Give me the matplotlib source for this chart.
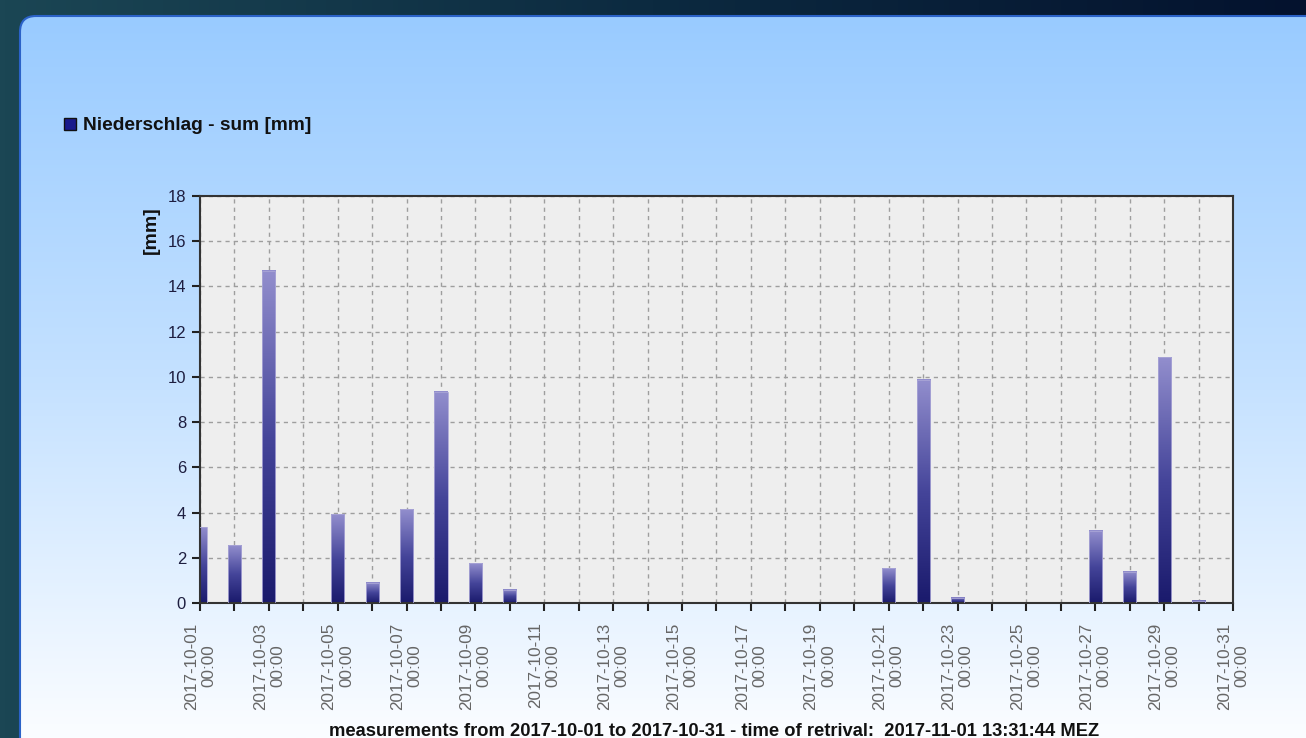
import numpy as np
import pandas as pd
import matplotlib
matplotlib.use('Agg')
import matplotlib.pyplot as plt
from matplotlib.colors import LinearSegmentedColormap
from matplotlib.patches import FancyBboxPatch, Rectangle

plt.rcParams['font.family'] = ['Liberation Sans', 'DejaVu Sans']

# daily precipitation sums, October 2017
days = pd.date_range('2017-10-01', '2017-10-31', freq='D')
rain_mm = [3.35, 2.55, 14.7, 0, 3.93, 0.89, 4.15, 9.35, 1.75, 0.59,
           0, 0, 0, 0, 0, 0, 0, 0, 0, 0,
           1.53, 9.87, 0.24, 0, 0, 0, 3.2, 1.39, 10.87, 0.09, 0]
tick_days = days[::2]
tick_labels = [d.strftime('%Y-%m-%d\n%H:%M') for d in tick_days]
y_ticks = list(range(0, 19, 2))

legend_label = 'Niederschlag - sum [mm]'
y_label = '[mm]'
footer = 'measurements from 2017-10-01 to 2017-10-31 - time of retrival:  2017-11-01 13:31:44 MEZ'

W, H = 1306, 738
fig = plt.figure(figsize=(W / 100, H / 100), dpi=100)

# background: dark frame + rounded light blue panel
bg = fig.add_axes([0, 0, 1, 1])
bg.set_xlim(0, W)
bg.set_ylim(H, 0)
bg.axis('off')
frame_cmap = LinearSegmentedColormap.from_list('frame', ['#1b4654', '#0c2a40', '#04122e'])
bg.imshow(np.linspace(0, 1, 256).reshape(1, -1), cmap=frame_cmap, extent=(0, W, H, 0), aspect='auto')
panel = FancyBboxPatch((20, 16), W + 40, H + 40, boxstyle='round,pad=0,rounding_size=16',
                       fc='none', ec='#2b62c8', lw=1.5, zorder=3)
bg.add_patch(panel)
panel_cmap = LinearSegmentedColormap.from_list('panel', ['#99cbff', '#c4e1ff', '#fbfdff'])
im = bg.imshow(np.linspace(0, 1, 256).reshape(-1, 1), cmap=panel_cmap,
               extent=(20, W, H, 16), aspect='auto', zorder=2)
im.set_clip_path(panel)
bg.set_xlim(0, W)
bg.set_ylim(H, 0)

# legend
bg.add_patch(Rectangle((64, 118), 12, 12, fc='#1a1a8c', ec='#111111', lw=1, zorder=4))
bg.text(83, 125, legend_label, fontsize=13.8, fontweight='bold', va='center', ha='left',
        color='#111111', zorder=4)

# plot area
ax = fig.add_axes([200 / W, 135 / H, 1033 / W, 407 / H])
ax.set_facecolor('#eeeeee')
bars = ax.bar(days, rain_mm, width=0.38, color='none', edgecolor='#a9a5d6', lw=0.6, zorder=3)
bar_cmap = LinearSegmentedColormap.from_list('bar', ['#1a1a6c', '#45459a', '#928ecd'])
grad = np.linspace(0, 1, 128).reshape(-1, 1)
for b in bars:
    h = b.get_height()
    if h <= 0:
        continue
    x0 = b.get_x()
    ax.imshow(grad, cmap=bar_cmap, origin='lower', aspect='auto',
              extent=(x0, x0 + b.get_width(), 0, h), zorder=2)

ax.set_xlim(days[0], days[-1])
ax.set_ylim(0, 18)
ax.set_aspect('auto')

ax.set_xticks(days, minor=True)
ax.set_xticks(tick_days)
ax.set_xticklabels(tick_labels, rotation=90, ha='center', va='top', multialignment='center')
ax.set_yticks(y_ticks)

ax.tick_params(axis='x', which='both', length=6, width=1.5, color='#222222', pad=8,
               labelsize=12.3, labelcolor='#666666')
ax.tick_params(axis='y', length=6, width=1.5, color='#222222', pad=4,
               labelsize=12, labelcolor='#1e1e40')
ax.set_axisbelow(True)
ax.grid(True, which='both', axis='x', ls=(0, (3, 3)), color='#9e9e9e', lw=1)
ax.grid(True, which='major', axis='y', ls=(0, (3, 3)), color='#9e9e9e', lw=1)
for s in ax.spines.values():
    s.set_color('#333333')
    s.set_linewidth(1.5)

fig.text(151 / W, 1 - 230 / H, y_label, rotation=90, fontsize=14, fontweight='bold',
         ha='center', va='center', color='#111111')
fig.text(714 / W, 1.5 / H, footer, fontsize=13.2, fontweight='bold', ha='center', va='baseline',
         color='#111111')

fig.savefig('out.png', dpi=100)
